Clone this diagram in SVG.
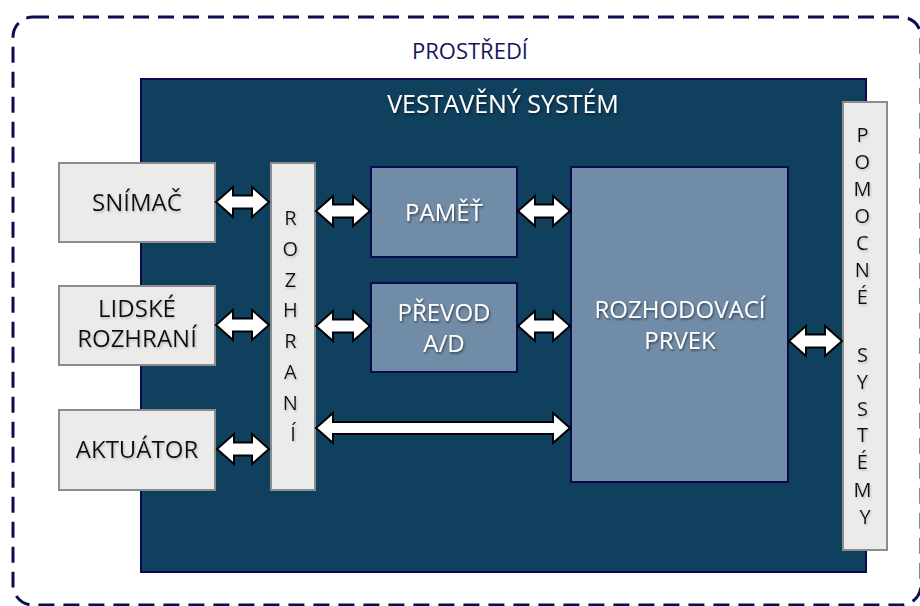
<svg xmlns="http://www.w3.org/2000/svg" width="920" height="606" viewBox="0 0 920 606">
  <defs>
    <filter id="shadowDark" x="-10%" y="-30%" width="120%" height="160%">
      <feDropShadow dx="1" dy="1.5" stdDeviation="1" flood-color="#000" flood-opacity="0.55"/>
    </filter>
    <filter id="shadowLight" x="-10%" y="-30%" width="120%" height="160%">
      <feDropShadow dx="1" dy="1.5" stdDeviation="0.8" flood-color="#9a9a9a" flood-opacity="0.6"/>
    </filter>
  </defs>
  <style>
    .env { fill: none; stroke: #0c0c52; stroke-width: 3; stroke-dasharray: 16 9; }
    .system { fill: #0f405d; stroke: #0a0a50; stroke-width: 2; }
    .ext { fill: #ebebeb; stroke: #8c8c8c; stroke-width: 2; }
    .core { fill: #718ca6; stroke: #0a0a50; stroke-width: 2; }
    .arrow { fill: #ffffff; stroke: #000000; stroke-width: 2; stroke-linejoin: miter; }
    text { font-family: "Open Sans", "Noto Sans", "DejaVu Sans", sans-serif; text-anchor: middle; }
    .lbl-dark { fill: #111111; font-size: 24px; filter: url(#shadowLight); }
    .lbl-light { fill: #ffffff; font-size: 24px; filter: url(#shadowDark); }
    .title { font-size: 25px; }
    .vert { fill: #111111; font-size: 20px; filter: url(#shadowLight); }
    .env-lbl { fill: #14145a; font-size: 22px; }
  </style>

  <!-- environment boundary -->
  <g id="prostredi">
    <rect class="env" x="13" y="17" width="908" height="588" rx="20" ry="20"/>
    <text class="env-lbl" x="470" y="59">PROSTŘEDÍ</text>
  </g>

  <!-- embedded system -->
  <g id="vestaveny-system">
    <rect class="system" x="141" y="79" width="725" height="493"/>
    <text class="lbl-light title" x="503" y="113">VESTAVĚNÝ SYSTÉM</text>
  </g>

  <g id="snimac">
    <rect class="ext" x="59" y="163" width="156" height="79"/>
    <text class="lbl-dark" x="137" y="211">SNÍMAČ</text>
  </g>

  <g id="lidske-rozhrani">
    <rect class="ext" x="59" y="286" width="156" height="79"/>
    <text class="lbl-dark" x="137" y="317">LIDSKÉ</text>
    <text class="lbl-dark" x="137" y="347">ROZHRANÍ</text>
  </g>

  <g id="aktuator">
    <rect class="ext" x="59" y="410" width="156" height="80"/>
    <text class="lbl-dark" x="137" y="458">AKTUÁTOR</text>
  </g>

  <g id="rozhrani">
    <rect class="ext" x="271" y="163" width="44" height="327"/>
    <text class="vert" x="293">
      <tspan x="293" y="225">R</tspan>
      <tspan x="293" y="256">O</tspan>
      <tspan x="293" y="287">Z</tspan>
      <tspan x="293" y="317">H</tspan>
      <tspan x="293" y="348">R</tspan>
      <tspan x="293" y="379">A</tspan>
      <tspan x="293" y="410">N</tspan>
      <tspan x="293" y="441">Í</tspan>
    </text>
  </g>

  <g id="pamet">
    <rect class="core" x="371" y="167" width="146" height="90"/>
    <text class="lbl-light" x="444" y="221">PAMĚŤ</text>
  </g>

  <g id="prevod-ad">
    <rect class="core" x="371" y="283" width="146" height="89"/>
    <text class="lbl-light" x="444" y="321">PŘEVOD</text>
    <text class="lbl-light" x="444" y="352">A/D</text>
  </g>

  <g id="rozhodovaci-prvek">
    <rect class="core" x="571" y="167" width="217" height="315"/>
    <text class="lbl-light" x="680" y="318">ROZHODOVACÍ</text>
    <text class="lbl-light" x="680" y="349">PRVEK</text>
  </g>

  <g id="pomocne-systemy">
    <rect class="ext" x="843" y="102" width="44" height="448"/>
    <text class="vert" x="865">
      <tspan x="865" y="142">P</tspan>
      <tspan x="865" y="169">O</tspan>
      <tspan x="865" y="196">M</tspan>
      <tspan x="865" y="223">O</tspan>
      <tspan x="865" y="250">C</tspan>
      <tspan x="865" y="277">N</tspan>
      <tspan x="865" y="304">É</tspan>
      <tspan x="865" y="362">S</tspan>
      <tspan x="865" y="389">Y</tspan>
      <tspan x="865" y="416">S</tspan>
      <tspan x="865" y="442">T</tspan>
      <tspan x="865" y="469">É</tspan>
      <tspan x="865" y="497">M</tspan>
      <tspan x="865" y="524">Y</tspan>
    </text>
  </g>

  <!-- bidirectional block arrows -->
  <g id="connectors">
    <polygon class="arrow" points="216,202 233,187 233,195.5 252,195.5 252,187 269,202 252,217 252,208.5 233,208.5 233,217"/>
    <polygon class="arrow" points="216,325 233,310 233,318.5 252,318.5 252,310 269,325 252,340 252,331.5 233,331.5 233,340"/>
    <polygon class="arrow" points="217,449 234,434 234,442.5 252,442.5 252,434 269,449 252,464 252,455.5 234,455.5 234,464"/>
    <polygon class="arrow" points="316,211 333,196 333,204.5 353,204.5 353,196 370,211 353,226 353,217.5 333,217.5 333,226"/>
    <polygon class="arrow" points="316,326 333,311 333,319.5 353,319.5 353,311 370,326 353,341 353,332.5 333,332.5 333,341"/>
    <polygon class="arrow" points="518,211 535,196 535,204.5 553,204.5 553,196 570,211 553,226 553,217.5 535,217.5 535,226"/>
    <polygon class="arrow" points="518,326 535,311 535,319.5 553,319.5 553,311 570,326 553,341 553,332.5 535,332.5 535,341"/>
    <polygon class="arrow" points="316,428 333,413 333,422 553,422 553,413 570,428 553,443 553,434 333,434 333,443"/>
    <polygon class="arrow" points="789,341 806,326 806,334.5 825,334.5 825,326 842,341 825,356 825,347.5 806,347.5 806,356"/>
  </g>
</svg>
